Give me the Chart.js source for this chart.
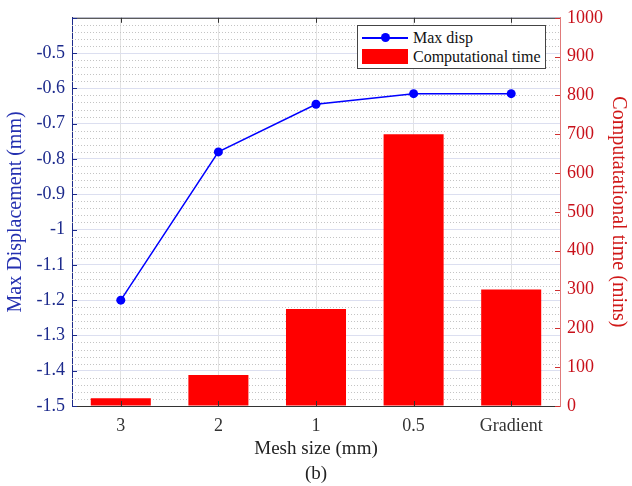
<!DOCTYPE html>
<html>
<head>
<meta charset="utf-8">
<script src="https://cdn.jsdelivr.net/npm/chart.js@4"></script>
<style>
  body { margin: 0; background: #fff; }
  #wrap { position: relative; width: 632px; height: 486px; }
  #legend {
    position: absolute; left: 357px; top: 25px; width: 189px; height: 44px;
    border: 1px solid #444; background: #fff; box-sizing: border-box;
    font-family: "Liberation Serif", serif; font-size: 16px; color: #111;
  }
  .row { position: absolute; left: 4px; height: 19px; line-height: 19px; }
  .row span { position: absolute; left: 51px; white-space: nowrap; }
  .swLine { position: absolute; left: 0; top: 9px; width: 46px; height: 2px; background: #0000ff; }
  .swDot { position: absolute; left: 19px; top: 5px; width: 9px; height: 9px; border-radius: 50%; background: #0000ff; }
  .swBar { position: absolute; left: 0; top: 2px; width: 46px; height: 15px; background: #ff0000; }
</style>
</head>
<body>
<div id="wrap">
  <canvas id="chart" width="632" height="486"></canvas>
  <div id="legend">
    <div class="row" style="top:2px"><div class="swLine"></div><div class="swDot"></div><span>Max disp</span></div>
    <div class="row" style="top:21px"><div class="swBar"></div><span>Computational time</span></div>
  </div>
</div>
<script>
// Data
const meshSizes = ['3', '2', '1', '0.5', 'Gradient'];
const maxDisp = [-1.2, -0.78, -0.645, -0.615, -0.615];     // mm
const compTime = [20, 80, 250, 700, 300];                   // mins

const serif = '"Liberation Serif", "Times New Roman", serif';
const blueText = '#1c2a8c';
const redText = '#c8101a';

// dotted minor grid lines every 0.02 on the left axis (MATLAB style)
const minorGrid = {
  id: 'minorGrid',
  beforeDatasetsDraw(chart) {
    const y = chart.scales.yDisp;
    const area = chart.chartArea;
    const ctx = chart.ctx;
    ctx.save();
    ctx.strokeStyle = '#c4c4c4';
    ctx.lineWidth = 1;
    ctx.setLineDash([1, 2]);
    for (let i = 0; i <= 55; i++) {
      if (i % 5 === 0) continue;
      const v = -1.5 + i * 0.02;
      const py = Math.round(y.getPixelForValue(v)) + 0.5;
      ctx.beginPath();
      ctx.moveTo(area.left, py);
      ctx.lineTo(area.right, py);
      ctx.stroke();
    }
    ctx.restore();
  }
};

// box top edge + small inward tick marks like matlab axes
const axisBox = {
  id: 'axisBox',
  afterDatasetsDraw(chart) {
    const { left, right, top, bottom } = chart.chartArea;
    const ctx = chart.ctx;
    const len = 5;
    ctx.save();
    ctx.lineWidth = 1;
    ctx.strokeStyle = '#333';
    ctx.beginPath();
    ctx.moveTo(left, top + 0.5);
    ctx.lineTo(right, top + 0.5);
    chart.scales.x.ticks.forEach((t, i) => {
      const px = Math.round(chart.scales.x.getPixelForTick(i)) + 0.5;
      ctx.moveTo(px, top);
      ctx.lineTo(px, top + len);
      ctx.moveTo(px, bottom);
      ctx.lineTo(px, bottom - len);
    });
    ctx.stroke();

    ctx.strokeStyle = '#1c2a8c';
    ctx.beginPath();
    chart.scales.yDisp.ticks.forEach((t) => {
      const py = Math.round(chart.scales.yDisp.getPixelForValue(t.value)) + 0.5;
      ctx.moveTo(left, py);
      ctx.lineTo(left + len, py);
    });
    ctx.stroke();

    ctx.strokeStyle = '#d03030';
    ctx.beginPath();
    chart.scales.yTime.ticks.forEach((t) => {
      const py = Math.round(chart.scales.yTime.getPixelForValue(t.value)) + 0.5;
      ctx.moveTo(right, py);
      ctx.lineTo(right - len, py);
    });
    ctx.stroke();
    ctx.restore();
  }
};

const ctx = document.getElementById('chart').getContext('2d');
const chart = new Chart(ctx, {
  data: {
    labels: meshSizes,
    datasets: [
      {
        type: 'line',
        label: 'Max disp',
        data: maxDisp,
        yAxisID: 'yDisp',
        borderColor: '#0000ff',
        backgroundColor: '#0000ff',
        borderWidth: 1.5,
        pointRadius: 4.5,
        pointBackgroundColor: '#0000ff',
        pointBorderWidth: 0,
        tension: 0,
        order: 0
      },
      {
        type: 'bar',
        label: 'Computational time',
        data: compTime,
        yAxisID: 'yTime',
        backgroundColor: '#ff0000',
        borderWidth: 0,
        barPercentage: 0.615,
        categoryPercentage: 1,
        order: 1
      }
    ]
  },
  options: {
    responsive: false,
    animation: false,
    layout: { padding: { top: 14, left: 0, right: 0, bottom: 0 } },
    plugins: {
      legend: { display: false },
      tooltip: { enabled: false }
    },
    scales: {
      x: {
        offset: true,
        grid: { offset: false, color: '#e2e2e2', drawTicks: false },
        border: { color: '#333', width: 1 },
        ticks: { color: '#333', font: { family: serif, size: 18 }, padding: 9 },
        title: {
          display: true,
          text: ['Mesh size (mm)', '(b)'],
          color: '#222',
          font: { family: serif, size: 19, lineHeight: 1.3 },
          padding: { top: 0, bottom: 0 }
        },
        afterFit: (s) => { s.height = 80; }
      },
      yDisp: {
        position: 'left',
        min: -1.5,
        max: -0.4,
        grid: { color: '#dcdff0', drawTicks: false },
        border: { color: '#1c2a8c', width: 1 },
        ticks: {
          stepSize: 0.1,
          color: blueText,
          padding: 7,
          font: { family: serif, size: 18 },
          callback: (v) => (Math.abs(v + 0.4) < 1e-6 ? '' : String(Math.round(v * 10) / 10))
        },
        title: {
          display: true,
          text: 'Max Displacement (mm)',
          color: '#2430b0',
          font: { family: serif, size: 20 },
          padding: { top: 4, bottom: 0 }
        },
        afterFit: (s) => { s.width = 72; }
      },
      yTime: {
        position: 'right',
        min: 0,
        max: 1000,
        grid: { drawOnChartArea: false, drawTicks: false },
        border: { color: '#e07a7a', width: 1 },
        ticks: {
          stepSize: 100,
          color: redText,
          padding: 7,
          font: { family: serif, size: 18 },
          callback: (v) => String(v)
        },
        title: {
          display: true,
          text: 'Computatational time (mins)',
          color: '#d01818',
          font: { family: serif, size: 20 },
          padding: { top: 2, bottom: 0 }
        },
        afterFit: (s) => { s.width = 72; }
      }
    }
  },
  plugins: [minorGrid, axisBox]
});
</script>
</body>
</html>
